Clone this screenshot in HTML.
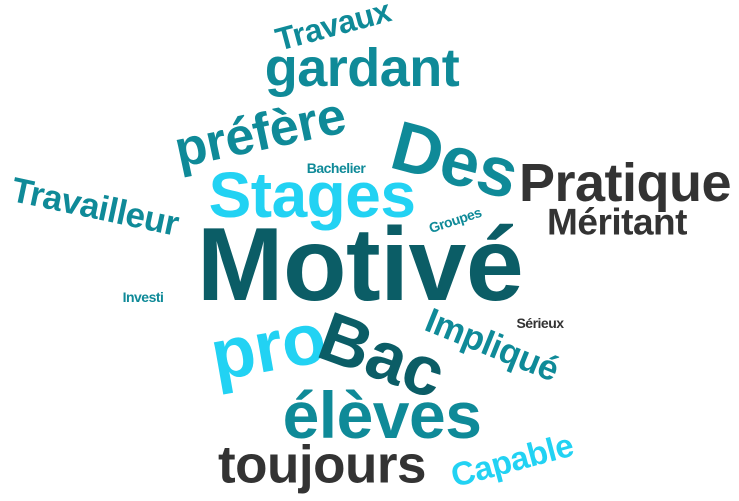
<!DOCTYPE html>
<html><head><meta charset="utf-8"><style>
html,body{margin:0;padding:0;background:#fff;}
#cloud{position:relative;width:739px;height:501px;overflow:hidden;background:#fff;}
.w{position:absolute;white-space:nowrap;font-family:"Liberation Sans",sans-serif;font-weight:bold;line-height:1;letter-spacing:-0.5px;}
.dt{color:#0b5d66}.t{color:#0f8a98}.c{color:#22d2f3}.d{color:#333}
</style></head><body>
<div id="cloud">
<span class="w dt" style="left:360px;top:265px;font-size:104px;transform:translate(-50%,-50%)">Motivé</span>
<span class="w c" style="left:312px;top:195px;font-size:64px;transform:translate(-50%,-50%)">Stages</span>
<span class="w t" style="left:455px;top:160px;font-size:70px;transform:translate(-50%,-50%) rotate(15deg)">Des</span>
<span class="w d" style="left:625px;top:183px;font-size:54px;transform:translate(-50%,-50%)">Pratique</span>
<span class="w d" style="left:617px;top:222px;font-size:37px;transform:translate(-50%,-50%)">Méritant</span>
<span class="w t" style="left:260px;top:133px;font-size:52px;transform:translate(-50%,-50%) rotate(-12deg)">préfère</span>
<span class="w t" style="left:362px;top:68px;font-size:54px;transform:translate(-50%,-50%)">gardant</span>
<span class="w t" style="left:333px;top:25px;font-size:32px;transform:translate(-50%,-50%) rotate(-15deg)">Travaux</span>
<span class="w t" style="left:95px;top:207px;font-size:35px;transform:translate(-50%,-50%) rotate(12deg)">Travailleur</span>
<span class="w t" style="left:336px;top:168px;font-size:14px;transform:translate(-50%,-50%)">Bachelier</span>
<span class="w t" style="left:455px;top:220px;font-size:14px;transform:translate(-50%,-50%) rotate(-18deg)">Groupes</span>
<span class="w t" style="left:143px;top:297px;font-size:14px;transform:translate(-50%,-50%)">Investi</span>
<span class="w d" style="left:540px;top:323px;font-size:14px;transform:translate(-50%,-50%)">Sérieux</span>
<span class="w c" style="left:268px;top:347px;font-size:72px;transform:translate(-50%,-50%) rotate(-10deg)">pro</span>
<span class="w dt" style="left:382px;top:355px;font-size:70px;transform:translate(-50%,-50%) rotate(20deg)">Bac</span>
<span class="w t" style="left:492px;top:345px;font-size:35px;transform:translate(-50%,-50%) rotate(22deg)">Impliqué</span>
<span class="w t" style="left:382px;top:415px;font-size:66px;transform:translate(-50%,-50%)">élèves</span>
<span class="w d" style="left:322px;top:465px;font-size:53px;transform:translate(-50%,-50%)">toujours</span>
<span class="w c" style="left:512px;top:460px;font-size:33px;transform:translate(-50%,-50%) rotate(-15deg)">Capable</span>
</div>
</body></html>
